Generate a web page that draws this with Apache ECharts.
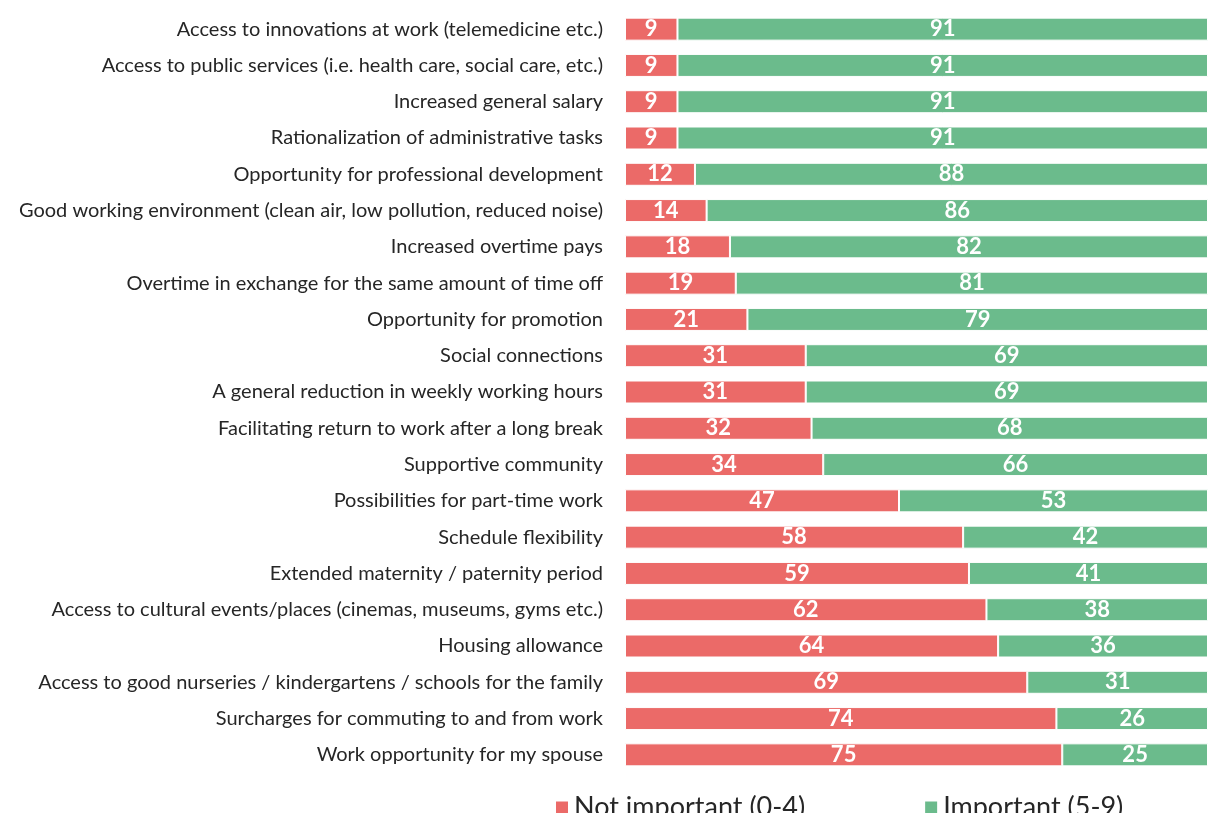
<!DOCTYPE html>
<html><head><meta charset="utf-8">
<script src="https://cdn.jsdelivr.net/npm/echarts@6/dist/echarts.min.js"></script>
<style>html,body{margin:0;padding:0;background:#fff}#c{width:1208px;height:813px}</style>
</head><body><div id="c"></div>
<script>
const categories = [
 "Access to innovations at work (telemedicine etc.)",
 "Access to public services (i.e. health care, social care, etc.)",
 "Increased general salary",
 "Rationalization of administrative tasks",
 "Opportunity for professional development",
 "Good working environment (clean air, low pollution, reduced noise)",
 "Increased overtime pays",
 "Overtime in exchange for the same amount of time off",
 "Opportunity for promotion",
 "Social connections",
 "A general reduction in weekly working hours",
 "Facilitating return to work after a long break",
 "Supportive community",
 "Possibilities for part-time work",
 "Schedule flexibility",
 "Extended maternity / paternity period",
 "Access to cultural events/places (cinemas, museums, gyms etc.)",
 "Housing allowance",
 "Access to good nurseries / kindergartens / schools for the family",
 "Surcharges for commuting to and from work",
 "Work opportunity for my spouse"
];
const notImportant = [9,9,9,9,12,14,18,19,21,31,31,32,34,47,58,59,62,64,69,74,75];
const important = [91,91,91,91,88,86,82,81,79,69,69,68,66,53,42,41,38,36,31,26,25];
const seriesNames = ["Not important (0-4)", "Important (5-9)"];

const FONT = "Lato, 'Open Sans', sans-serif";
const chart = echarts.init(document.getElementById('c'));
const lbl = {show:true, position:'inside', color:'#fff', fontSize:22, fontWeight:'bold', fontFamily:FONT};
chart.setOption({
  animation:false,
  textStyle:{fontFamily:FONT},
  grid:{left:625, right:0, top:11, bottom:40},
  legend:{bottom:-13, left:549, itemWidth:14, itemHeight:14, itemGap:118, icon:'rect',
    textStyle:{fontSize:27, color:'#262626', fontFamily:FONT}, data:seriesNames},
  xAxis:{type:'value', min:0, max:100, show:false},
  yAxis:{type:'category', data:categories, inverse:true,
    axisLine:{show:false}, axisTick:{show:false},
    axisLabel:{fontSize:20, color:'#262626', margin:22, fontFamily:FONT}},
  series:[
    {name:seriesNames[0], type:'bar', stack:'a', data:notImportant, barWidth:23,
     itemStyle:{color:'#EB6A68', borderColor:'#fff', borderWidth:1}, label:lbl},
    {name:seriesNames[1], type:'bar', stack:'a', data:important, barWidth:23,
     itemStyle:{color:'#6BBB8C', borderColor:'#fff', borderWidth:1}, label:lbl}
  ]
});
</script></body></html>
